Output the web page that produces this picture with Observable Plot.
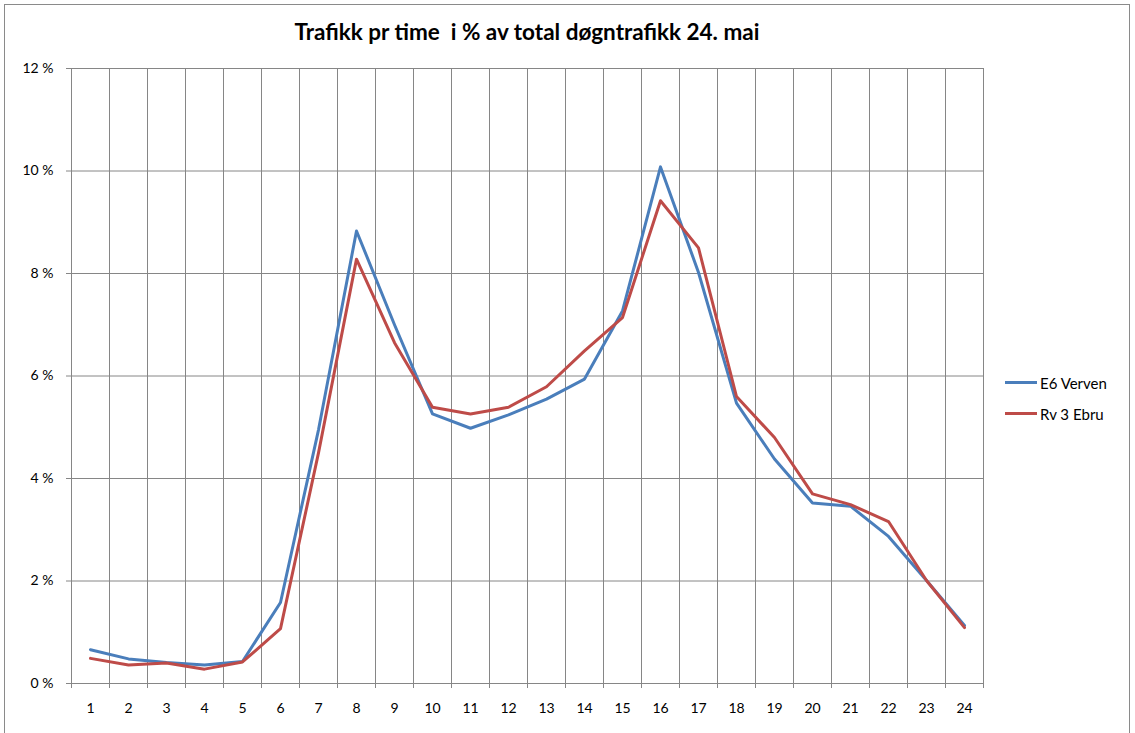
<!DOCTYPE html>
<html><head><meta charset="utf-8">
<script src="https://cdn.jsdelivr.net/npm/d3@7"></script>
<script src="https://cdn.jsdelivr.net/npm/@observablehq/plot@0.6"></script>
<style>
body{margin:0;background:#fff;font-family:Lato,"Open Sans",sans-serif;}
#wrap{position:relative;width:1135px;height:733px;overflow:hidden;}
#frame{position:absolute;left:4px;top:4px;width:1124px;height:760px;border:1px solid #8a8a8a;}
#title{position:absolute;left:71px;width:912px;top:18px;text-align:center;font-weight:bold;font-size:22.5px;white-space:pre;color:#000;}
#legend{position:absolute;left:1005px;top:367px;font-size:15px;color:#000;}
#legend .row{display:flex;align-items:center;height:31px;}
#legend .sw{width:32px;height:3px;margin-right:3px;}
#chart{position:absolute;left:0;top:0;}
</style></head>
<body>
<div id="wrap">
  <div id="frame"></div>
  <div id="chart"></div>
  <div id="title">Trafikk pr time  i % av total døgntrafikk 24. mai</div>
  <div id="legend"></div>
</div>
<script>
const hours = [1,2,3,4,5,6,7,8,9,10,11,12,13,14,15,16,17,18,19,20,21,22,23,24];
const seriesNames = ["E6 Verven", "Rv 3 Ebru"];
const seriesColors = ["#4a7ebb", "#be4b48"];
const e6Verven = [0.66,0.48,0.41,0.36,0.43,1.58,4.95,8.83,7.0,5.26,4.98,5.24,5.55,5.94,7.27,10.08,8.02,5.47,4.38,3.52,3.46,2.87,2.01,1.13];
const rv3Ebru  = [0.49,0.36,0.40,0.28,0.42,1.07,4.5,8.28,6.65,5.39,5.26,5.39,5.79,6.49,7.14,9.42,8.50,5.60,4.80,3.70,3.49,3.16,2.01,1.09];
const yTicks = [0,2,4,6,8,10,12];

const data = [
  ...hours.map((h,i)=>({hour:h, value:e6Verven[i], series:seriesNames[0]})),
  ...hours.map((h,i)=>({hour:h, value:rv3Ebru[i], series:seriesNames[1]}))
];
const bounds = [0, ...hours].map(h => h + 0.5);
const grid = "#868686";

const chart = Plot.plot({
  width: 1135, height: 733,
  marginLeft: 71, marginRight: 152, marginTop: 68, marginBottom: 50,
  x: {domain: [0.5, 24.5], label: null},
  y: {domain: [0, 12], label: null},
  color: {domain: seriesNames, range: seriesColors},
  style: {fontFamily: "Lato, 'Open Sans', sans-serif", fontSize: "14px", color: "#000", background: "transparent"},
  marks: [
    Plot.ruleY(yTicks, {stroke: grid, strokeWidth: 1}),
    Plot.ruleX(bounds, {stroke: grid, strokeWidth: 1}),
    Plot.axisX(bounds, {tickSize: 5, tickFormat: () => "", color: grid, label: null}),
    Plot.axisX(hours, {tickSize: 0, tickPadding: 20, fontSize: 14, color: "#000", label: null}),
    Plot.axisY(yTicks, {tickSize: 5, tickFormat: () => "", color: grid, label: null}),
    Plot.axisY(yTicks, {tickSize: 0, tickPadding: 18, fontSize: 14, color: "#000", label: null, tickFormat: d => d + " %"}),
    Plot.line(data, {x: "hour", y: "value", z: "series", stroke: "series", strokeWidth: 3, strokeLinejoin: "round"})
  ]
});
document.getElementById("chart").appendChild(chart);

const legend = document.getElementById("legend");
seriesNames.forEach((n,i)=>{
  const row = document.createElement("div");
  row.className = "row";
  row.innerHTML = `<div class="sw" style="background:${seriesColors[i]}"></div><span>${n}</span>`;
  legend.appendChild(row);
});
</script>
</body></html>
